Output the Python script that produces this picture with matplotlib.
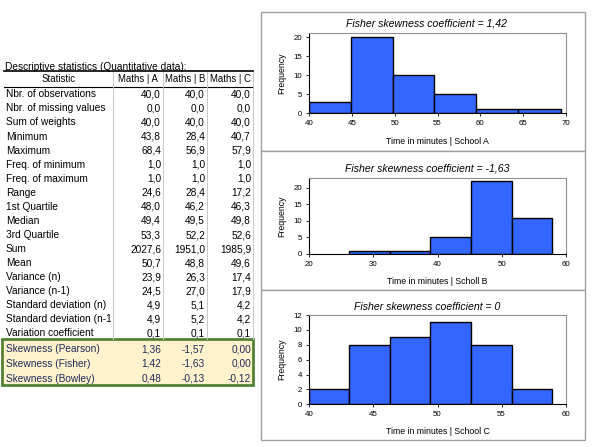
import numpy as np
import matplotlib.pyplot as plt
from matplotlib.patches import Rectangle

# ---------------------------------------------------------
# data
# ---------------------------------------------------------
stat_names = [
    "Nbr. of observations", "Nbr. of missing values", "Sum of weights",
    "Minimum", "Maximum", "Freq. of minimum", "Freq. of maximum", "Range",
    "1st Quartile", "Median", "3rd Quartile", "Sum", "Mean", "Variance (n)",
    "Variance (n-1)", "Standard deviation (n)", "Standard deviation (n-1)",
    "Variation coefficient",
]
maths_a = [40.0, 0.0, 40.0, 43.8, 68.4, 1.0, 1.0, 24.6, 48.0, 49.4, 53.3,
           2027.6, 50.7, 23.9, 24.5, 4.9, 4.9, 0.1]
maths_b = [40.0, 0.0, 40.0, 28.4, 56.9, 1.0, 1.0, 28.4, 46.2, 49.5, 52.2,
           1951.0, 48.8, 26.3, 27.0, 5.1, 5.2, 0.1]
maths_c = [40.0, 0.0, 40.0, 40.7, 57.9, 1.0, 1.0, 17.2, 46.3, 49.8, 52.6,
           1985.9, 49.6, 17.4, 17.9, 4.2, 4.2, 0.1]

skew_names = ["Skewness (Pearson)", "Skewness (Fisher)", "Skewness (Bowley)"]
skew_a = [1.36, 1.42, 0.48]
skew_b = [-1.57, -1.63, -0.13]
skew_c = [0.00, 0.00, -0.12]

col_headers = ["Statistic", "Maths | A", "Maths | B", "Maths | C"]

edges_a = [40.0, 44.92, 49.83, 54.63, 59.55, 64.46, 69.42]
freq_a = [3, 20, 10, 5, 1, 1]
edges_b = [26.25, 32.66, 38.9, 45.3, 51.6, 57.9]
freq_b = [1, 1, 5, 22, 11]
edges_c = [40.0, 43.12, 46.32, 49.44, 52.59, 55.79, 58.9]
freq_c = [2, 8, 9, 11, 8, 2]

hist_titles = ["Fisher skewness coefficient = 1,42",
               "Fisher skewness coefficient = -1,63",
               "Fisher skewness coefficient = 0"]
hist_xlabels = ["Time in minutes | School A",
                "Time in minutes | Scholl B",
                "Time in minutes | School C"]

# ---------------------------------------------------------
# figure (pixel helpers)
# ---------------------------------------------------------
W, H = 598, 447
fig = plt.figure(figsize=(W / 100, H / 100), dpi=100)
plt.rcParams["font.family"] = ["Liberation Sans", "DejaVu Sans"]


def fx(px):
    return px / W


def fy(py):
    return 1 - py / H


def frect(x0, y0, x1, y1, **kw):
    r = Rectangle((fx(x0), fy(y1)), fx(x1) - fx(x0), fy(y0) - fy(y1),
                  transform=fig.transFigure, **kw)
    fig.patches.append(r)
    return r


def fline(x0, y0, x1, y1, **kw):
    fig.add_artist(plt.Line2D([fx(x0), fx(x1)], [fy(y0), fy(y1)],
                              transform=fig.transFigure, **kw))


def fmt(v, nd):
    return f"{v:.{nd}f}".replace(".", ",")


# ---------------------------------------------------------
# table
# ---------------------------------------------------------
tfs = 7.3
col_x = [4, 113, 163, 207, 253]
fig.text(fx(5), fy(66.5), "Descriptive statistics (Quantitative data):",
         fontsize=tfs, va="center", ha="left")
fline(4, 71, 253, 71, color="black", lw=1.2)
fline(4, 87, 253, 87, color="black", lw=0.8)

# column separators
for x in col_x[1:]:
    fline(x, 72, x, 339, color="#C8C8C8", lw=0.7)

hdr_y = 79.5
for i, h in enumerate(col_headers):
    fig.text(fx((col_x[i] + col_x[i + 1]) / 2), fy(hdr_y), h,
             fontsize=6.9, ha="center", va="center")

clip = Rectangle((fx(4), 0), fx(111) - fx(4), 1, transform=fig.transFigure)
row_step = 14.07
for i, name in enumerate(stat_names):
    y = 94.3 + i * row_step
    t = fig.text(fx(6), fy(y), name, fontsize=tfs, ha="left", va="center")
    t.set_clip_path(clip)
    for j, vals in enumerate([maths_a, maths_b, maths_c]):
        fig.text(fx(col_x[j + 2] - 2), fy(y), fmt(vals[i], 1),
                 fontsize=tfs, ha="right", va="center")

# skewness block
frect(2, 339, 253, 385, facecolor="#FFF2CC", edgecolor="#548235", lw=2,
      zorder=0)
skew_color = "#1F2A5C"
for i, name in enumerate(skew_names):
    y = 349 + i * 14.8
    fig.text(fx(6), fy(y), name, fontsize=tfs, ha="left", va="center",
             color=skew_color)
    for j, vals in enumerate([skew_a, skew_b, skew_c]):
        fig.text(fx(col_x[j + 2] - 2), fy(y), fmt(vals[i], 2),
                 fontsize=tfs, ha="right", va="center", color=skew_color)

# ---------------------------------------------------------
# histograms
# ---------------------------------------------------------
panels = [(12, 151), (151, 290), (290, 440)]
for p0, p1 in panels:
    frect(261, p0, 585, p1, facecolor="white", edgecolor="#A0A0A0", lw=1,
          zorder=-5)

ax_boxes = [(33.3, 113.3), (177.7, 254.0), (315.0, 404.3)]
hist_data = [(edges_a, freq_a, (40, 70), np.arange(40, 71, 5), (0, 21),
              np.arange(0, 21, 5)),
             (edges_b, freq_b, (20, 60), np.arange(20, 61, 10), (0, 23),
              np.arange(0, 21, 5)),
             (edges_c, freq_c, (40, 60), np.arange(40, 61, 5), (0, 12),
              np.arange(0, 13, 2))]
title_y = [24, 169, 306.7]
xlabel_y = [141.7, 281.7, 431.7]

for k, (top, bot) in enumerate(ax_boxes):
    edges, freq, xl, xt, yl, yt = hist_data[k]
    ax = fig.add_axes([fx(309.3), fy(bot), fx(565.7) - fx(309.3),
                       fy(top) - fy(bot)], zorder=2)
    ax.patch.set_alpha(0)
    ax.bar(edges[:-1], freq, width=np.diff(edges), align="edge",
           color="#3366FF", edgecolor="black", linewidth=1.0)
    ax.set_xlim(xl)
    ax.set_ylim(yl)
    ax.set_xticks(xt)
    ax.set_yticks(yt)
    ax.tick_params(labelsize=5.7, length=2.5, width=0.6, pad=2.5)
    for s in ["top", "right"]:
        ax.spines[s].set_color("#909090")
        ax.spines[s].set_linewidth(0.8)
    for s in ["left", "bottom"]:
        ax.spines[s].set_color("black")
        ax.spines[s].set_linewidth(0.8)
    fig.text(fx(427), fy(title_y[k]), hist_titles[k], fontsize=7.6,
             style="italic", ha="center", va="center")
    fig.text(fx(437.5), fy(xlabel_y[k]), hist_xlabels[k], fontsize=6.3,
             ha="center", va="center")
    fig.text(fx(282), fy((top + bot) / 2), "Frequency", fontsize=6.3,
             rotation=90, ha="center", va="center")

plt.savefig("out.png", dpi=100)
